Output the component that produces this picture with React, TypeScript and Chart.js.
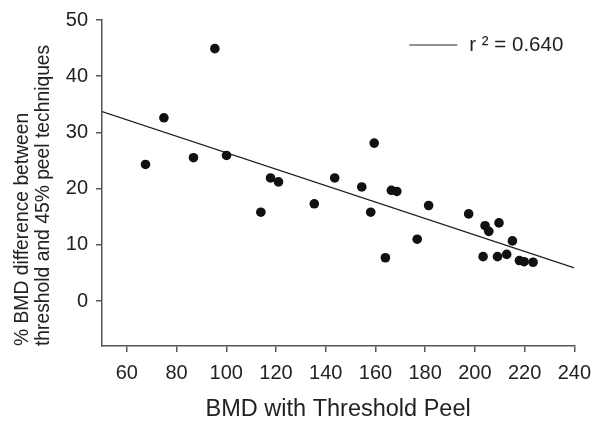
import React, { useEffect, useRef } from "react";
import { Chart, registerables } from "chart.js";

Chart.register(...registerables);

const bmdThreshold = [67.5, 74.9, 95.4, 86.8, 100.1, 113.9, 117.8, 121.0, 135.4, 143.6, 159.5, 154.5, 158.1, 164.0, 166.4, 168.6, 181.4, 176.8, 197.5, 204.1, 205.6, 209.7, 203.3, 209.1, 212.8, 215.1, 217.9, 219.8, 223.4];
const bmdDiff = [24.3, 32.6, 44.9, 25.5, 25.9, 15.8, 21.9, 21.2, 17.3, 21.9, 28.1, 20.3, 15.8, 7.7, 19.7, 19.5, 17.0, 11.0, 15.5, 13.4, 12.4, 13.9, 7.9, 7.9, 8.3, 10.7, 7.2, 7.0, 6.9];
const fitX = [50, 240];
const fitY = [33.7, 5.9];
const xTicks = [60, 80, 100, 120, 140, 160, 180, 200, 220, 240];
const yTicks = [0, 10, 20, 30, 40, 50];
const legendText = "r \u00B2 = 0.640";
const xTitle = "BMD with Threshold Peel";
const yTitle = ["% BMD difference between", "threshold and 45% peel techniques"];

const FONT = "'Liberation Sans', Arial, Helvetica, sans-serif";

const legendPlugin = {
  id: "fitLegend",
  afterDraw(chart: any) {
    const { ctx, chartArea } = chart;
    const y = chartArea.top + 25;
    const x0 = chartArea.right - 165;
    ctx.save();
    ctx.strokeStyle = "#222";
    ctx.lineWidth = 1.2;
    ctx.beginPath();
    ctx.moveTo(x0, y);
    ctx.lineTo(x0 + 48, y);
    ctx.stroke();
    ctx.fillStyle = "#222";
    ctx.font = `20.5px ${FONT}`;
    ctx.textBaseline = "middle";
    ctx.textAlign = "left";
    ctx.fillText(legendText, x0 + 60, y);
    ctx.restore();
  },
};

export default function App() {
  const ref = useRef<HTMLCanvasElement | null>(null);
  useEffect(() => {
    if (!ref.current) return;
    const chart = new Chart(ref.current, {
      type: "scatter",
      data: {
        datasets: [
          {
            type: "scatter",
            data: bmdThreshold.map((x, i) => ({ x, y: bmdDiff[i] })),
            backgroundColor: "#111",
            borderColor: "#111",
            pointRadius: 4.8,
            borderWidth: 0,
          },
          {
            type: "line",
            data: fitX.map((x, i) => ({ x, y: fitY[i] })),
            borderColor: "#222",
            borderWidth: 1.2,
            pointRadius: 0,
            fill: false,
          } as any,
        ],
      },
      options: {
        animation: false,
        responsive: false,
        maintainAspectRatio: false,
        layout: { padding: { top: 16, right: 25, left: 0, bottom: 0 } },
        plugins: { legend: { display: false }, tooltip: { enabled: false } },
        scales: {
          x: {
            type: "linear",
            min: 50,
            max: 240,
            afterBuildTicks: (s: any) => {
              s.ticks = xTicks.map((v) => ({ value: v }));
            },
            afterFit: (s: any) => {
              s.height = 79;
            },
            grid: { drawOnChartArea: false, drawTicks: true, tickLength: 6, color: "#555", lineWidth: 1.5 },
            border: { display: true, color: "#555", width: 1.5 },
            ticks: { color: "#222", font: { family: FONT, size: 20 }, padding: 9, maxRotation: 0 },
            title: {
              display: true,
              text: xTitle,
              color: "#222",
              font: { family: FONT, size: 23.5 },
              padding: { top: 0, bottom: 1 },
            },
          },
          y: {
            type: "linear",
            min: -8,
            max: 50,
            afterBuildTicks: (s: any) => {
              s.ticks = yTicks.map((v) => ({ value: v }));
            },
            afterFit: (s: any) => {
              s.width = 102;
            },
            grid: { drawOnChartArea: false, drawTicks: true, tickLength: 6, color: "#555", lineWidth: 1.5 },
            border: { display: true, color: "#555", width: 1.5 },
            ticks: { color: "#222", font: { family: FONT, size: 20 }, padding: 8 },
            title: {
              display: true,
              text: yTitle,
              align: "start",
              color: "#222",
              font: { family: FONT, size: 19.3, lineHeight: 1.09 },
              padding: { top: 12, bottom: 0 },
            },
          },
        },
      },
      plugins: [legendPlugin],
    } as any);
    return () => chart.destroy();
  }, []);
  return (
    <div style={{ position: "fixed", left: 0, top: 0, width: 600, height: 425, background: "#fff" }}>
      <canvas ref={ref} width={600} height={425} />
    </div>
  );
}
